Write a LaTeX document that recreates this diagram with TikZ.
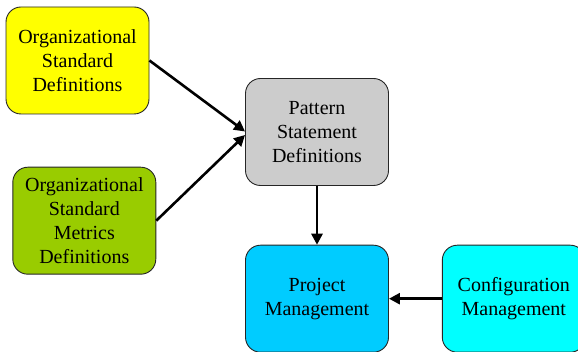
\documentclass[tikz,border=0pt]{standalone}
\usepackage{fontspec}
\setmainfont{Liberation Serif}
\usetikzlibrary{arrows.meta}
\definecolor{boxyellow}{HTML}{FFFF00}
\definecolor{boxgreen}{HTML}{99CC00}
\definecolor{boxgray}{HTML}{CCCCCC}
\definecolor{boxblue}{HTML}{00CCFF}
\definecolor{boxcyan}{HTML}{00FFFF}
\tikzset{
  box/.style={draw=black!85, line width=0.9pt, rounded corners=15pt,
    minimum width=143pt, minimum height=107pt, align=center,
    font=\fontsize{20}{24}\selectfont, inner sep=0pt},
  arr/.style={line width=2.6pt, -{Triangle[length=11pt,width=11pt]}}
}
\begin{document}
\begin{tikzpicture}[x=1pt,y=1pt]
\useasboundingbox (0,0) rectangle (578,352);
\begin{scope}
\clip (0,0) rectangle (578,352);
\node[box, fill=boxyellow] (osd) at (77.5,291.5) {Organizational\\Standard\\Definitions};
\node[box, fill=boxgreen] (osmd) at (84.3,131.3) {Organizational\\Standard\\Metrics\\Definitions};
\node[box, fill=boxgray] (psd) at (317,220) {Pattern\\Statement\\Definitions};
\node[box, fill=boxblue] (pm) at (317,53.3) {Project\\Management};
\node[box, fill=boxcyan] (cm) at (513.8,53.3) {Configuration\\Management};
\draw[arr] (osd.east) -- ([yshift=0.5pt]psd.west);
\draw[arr] (osmd.east) -- ([yshift=-3pt]psd.west);
\draw[arr] (psd.south) -- (pm.north);
\draw[arr] (cm.west) -- (pm.east);
\end{scope}
\end{tikzpicture}
\end{document}
